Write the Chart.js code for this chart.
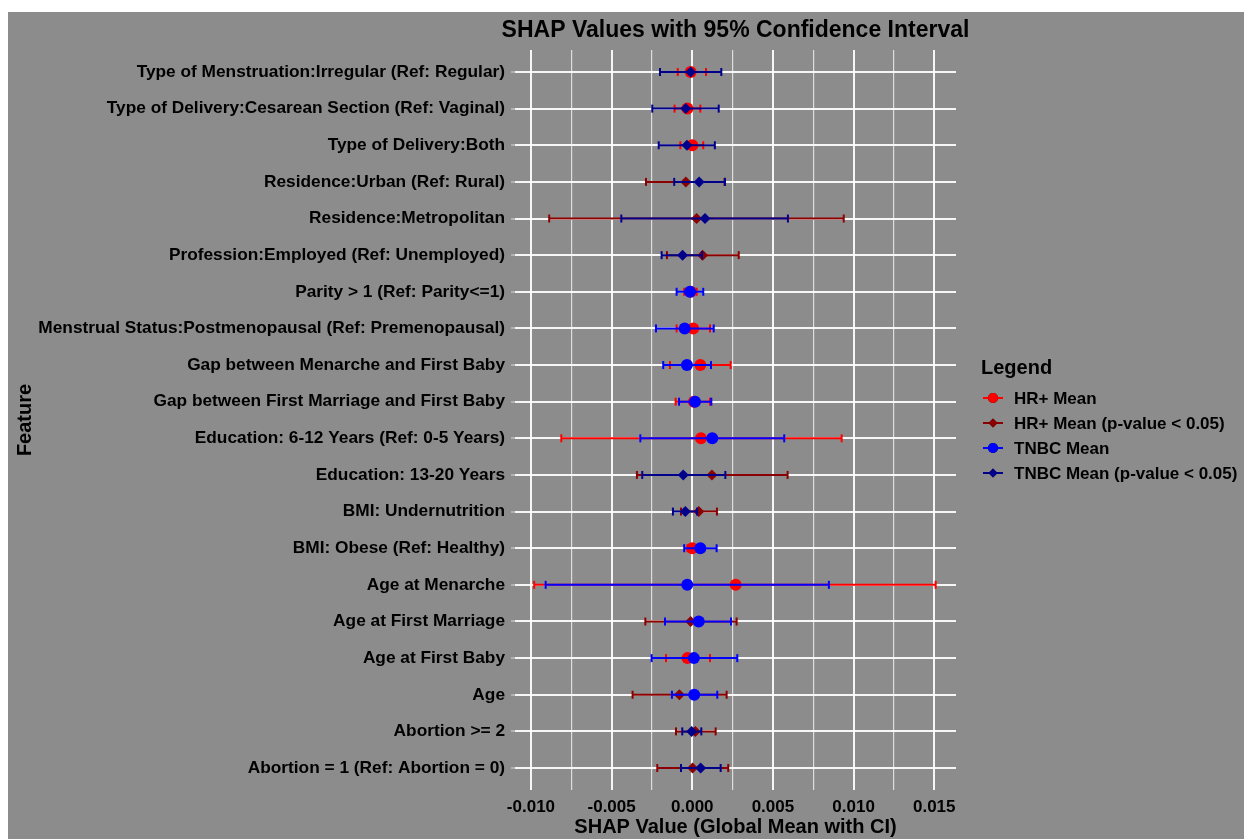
<!DOCTYPE html>
<html>
<head>
<meta charset="utf-8">
<title>SHAP Values with 95% Confidence Interval</title>
<script src="https://cdn.jsdelivr.net/npm/chart.js@4"></script>
<style>
  body { margin: 0; background: #ffffff; }
  #wrap { position: absolute; left: 8px; top: 12px; width: 1236px; height: 827px; background: #8c8c8c; }
</style>
</head>
<body>
<div id="wrap"><canvas id="shapChart"></canvas></div>
<script>
// Features, listed top to bottom
const features = [
    'Type of Menstruation:Irregular (Ref: Regular)',
    'Type of Delivery:Cesarean Section (Ref: Vaginal)',
    'Type of Delivery:Both',
    'Residence:Urban (Ref: Rural)',
    'Residence:Metropolitan',
    'Profession:Employed (Ref: Unemployed)',
    'Parity > 1 (Ref: Parity<=1)',
    'Menstrual Status:Postmenopausal (Ref: Premenopausal)',
    'Gap between Menarche and First Baby',
    'Gap between First Marriage and First Baby',
    'Education: 6-12 Years (Ref: 0-5 Years)',
    'Education: 13-20 Years',
    'BMI: Undernutrition',
    'BMI: Obese (Ref: Healthy)',
    'Age at Menarche',
    'Age at First Marriage',
    'Age at First Baby',
    'Age',
    'Abortion >= 2',
    'Abortion = 1 (Ref: Abortion = 0)'
];

// HR+ cohort: mean SHAP value, 95% CI bounds, significance (p < 0.05)
const hrMean = [-0.0001, -0.0003, 0.0000, -0.0004, 0.00027, 0.00064, -0.0001, 0.00006, 0.0005, 0.0001,
                0.00054, 0.00122, 0.0004, 0.0000, 0.00269, -0.0001, -0.0003, -0.0008, 0.00019, 0.00002];
const hrLow  = [-0.0009, -0.0011, -0.00074, -0.00287, -0.00887, -0.00157, -0.0005, -0.00097, -0.00138, -0.00103,
                -0.00812, -0.00343, -0.0007, -0.0003, -0.0098, -0.00291, -0.00163, -0.0037, -0.00101, -0.00217];
const hrHigh = [0.00085, 0.0005, 0.00068, 0.0020, 0.00939, 0.00288, 0.00027, 0.0011, 0.00238, 0.0011,
                0.00926, 0.00591, 0.00153, 0.0003, 0.01509, 0.00275, 0.0011, 0.00213, 0.00145, 0.00223];
const hrSig  = [false, false, false, true, true, true, false, false, false, false,
                false, true, true, false, false, true, false, true, true, true];

// TNBC cohort
const tnbcMean = [-0.0001, -0.0004, -0.00033, 0.00043, 0.00079, -0.0006, -0.00014, -0.00047, -0.00033, 0.00017,
                  0.00124, -0.00056, -0.00043, 0.0005, -0.00031, 0.0004, 0.0001, 0.00012, -0.00004, 0.00052];
const tnbcLow  = [-0.0020, -0.00248, -0.00208, -0.00112, -0.0044, -0.0019, -0.00097, -0.00225, -0.0018, -0.00082,
                  -0.00322, -0.0031, -0.0012, -0.0005, -0.00909, -0.00169, -0.00252, -0.00126, -0.00062, -0.0007];
const tnbcHigh = [0.0018, 0.00164, 0.0014, 0.00203, 0.00593, 0.0006, 0.00068, 0.00133, 0.00116, 0.00118,
                  0.0057, 0.00205, 0.0003, 0.00151, 0.00847, 0.0024, 0.00279, 0.00155, 0.00056, 0.00176];
const tnbcSig  = [true, true, true, true, true, true, false, false, false, false,
                  false, true, true, false, false, false, false, false, true, true];

// x grid positions; labels only on every other one
const xTicks = [-0.01, -0.0075, -0.005, -0.0025, 0, 0.0025, 0.005, 0.0075, 0.01, 0.0125, 0.015];
const xTickLabels = ['-0.010', '', '-0.005', '', '0.000', '', '0.005', '', '0.010', '', '0.015'];

const legendItems = [
    { label: 'HR+ Mean', color: '#ff0000', style: 'circle' },
    { label: 'HR+ Mean (p-value < 0.05)', color: '#8b0000', style: 'rectRot' },
    { label: 'TNBC Mean', color: '#0000ff', style: 'circle' },
    { label: 'TNBC Mean (p-value < 0.05)', color: '#00008b', style: 'rectRot' }
];

const FONT = "'Liberation Sans', Arial, Helvetica, sans-serif";
const TEXT = '#000000';

// error bar segments, separated by empty points so the line breaks between rows
function ciPoints(low, high, sig, wantSig) {
    const pts = [];
    features.forEach((f, i) => {
        if (sig[i] !== wantSig) return;
        pts.push({ x: low[i], y: i }, { x: high[i], y: i }, { x: null, y: null });
    });
    return pts;
}

function meanPoints(mean, sig, wantSig) {
    const pts = [];
    features.forEach((f, i) => {
        if (sig[i] === wantSig) pts.push({ x: mean[i], y: i });
    });
    return pts;
}

function ciDataset(data, color, order) {
    return {
        data: data,
        showLine: true,
        borderColor: color,
        borderWidth: 2,
        pointStyle: 'line',
        pointRotation: 90,
        pointRadius: 4,
        pointBorderColor: color,
        pointBorderWidth: 2,
        order: order
    };
}

function meanDataset(data, item, order) {
    return {
        data: data,
        showLine: false,
        pointStyle: item.style,
        pointRadius: item.style === 'circle' ? 6 : 5.5,
        backgroundColor: item.color,
        borderColor: item.color,
        pointBorderWidth: 0,
        order: order
    };
}

// Title and legend drawn straight onto the canvas
const annotations = {
    id: 'annotations',
    afterDraw(chart) {
        const ctx = chart.ctx;
        const area = chart.chartArea;
        ctx.save();
        ctx.fillStyle = TEXT;
        ctx.textBaseline = 'middle';
        ctx.textAlign = 'center';
        ctx.font = 'bold 23px ' + FONT;
        ctx.fillText('SHAP Values with 95% Confidence Interval', (area.left + area.right) / 2, 19);

        ctx.textAlign = 'left';
        ctx.font = 'bold 20px ' + FONT;
        ctx.fillText('Legend', 973, 356);

        ctx.font = 'bold 17px ' + FONT;
        legendItems.forEach((item, k) => {
            const y = 386 + k * 25;
            ctx.strokeStyle = item.color;
            ctx.lineWidth = 2;
            ctx.beginPath();
            ctx.moveTo(975, y);
            ctx.lineTo(995, y);
            ctx.stroke();
            Chart.helpers.drawPoint(ctx, {
                pointStyle: item.style,
                radius: item.style === 'circle' ? 5 : 4.5,
                rotation: 0,
                borderWidth: 0
            }, 985, y);
            ctx.fillStyle = item.color;
            ctx.fill();
            ctx.fillStyle = TEXT;
            ctx.fillText(item.label, 1006, y + 1);
        });
        ctx.restore();
    }
};

const ctx = document.getElementById('shapChart').getContext('2d');
new Chart(ctx, {
    type: 'scatter',
    data: {
        datasets: [
            meanDataset(meanPoints(tnbcMean, tnbcSig, false), legendItems[2], 0),
            meanDataset(meanPoints(tnbcMean, tnbcSig, true), legendItems[3], 0),
            ciDataset(ciPoints(tnbcLow, tnbcHigh, tnbcSig, false), legendItems[2].color, 1),
            ciDataset(ciPoints(tnbcLow, tnbcHigh, tnbcSig, true), legendItems[3].color, 1),
            meanDataset(meanPoints(hrMean, hrSig, false), legendItems[0], 2),
            meanDataset(meanPoints(hrMean, hrSig, true), legendItems[1], 2),
            ciDataset(ciPoints(hrLow, hrHigh, hrSig, false), legendItems[0].color, 3),
            ciDataset(ciPoints(hrLow, hrHigh, hrSig, true), legendItems[1].color, 3)
        ]
    },
    options: {
        responsive: true,
        maintainAspectRatio: false,
        animation: false,
        events: [],
        layout: { padding: { top: 38, right: 288, bottom: 0, left: 0 } },
        scales: {
            x: {
                type: 'linear',
                min: -0.01099,
                max: 0.01635,
                afterBuildTicks: scale => { scale.ticks = xTicks.map(v => ({ value: v })); },
                afterFit: scale => { scale.height = 49; },
                ticks: {
                    color: TEXT,
                    padding: 7,
                    maxRotation: 0,
                    minRotation: 0,
                    autoSkip: false,
                    font: { family: FONT, size: 17, weight: 'bold' },
                    callback: (value, index) => xTickLabels[index]
                },
                grid: {
                    drawTicks: false,
                    color: c => (c.index % 2 === 0 ? 'rgba(255,255,255,0.92)' : 'rgba(255,255,255,0.7)'),
                    lineWidth: c => (c.index % 2 === 0 ? 2 : 1.2)
                },
                border: { display: false },
                title: {
                    display: true,
                    text: 'SHAP Value (Global Mean with CI)',
                    color: TEXT,
                    font: { family: FONT, size: 20, weight: 'bold' },
                    padding: { top: 0, bottom: 0 }
                }
            },
            y: {
                type: 'linear',
                reverse: true,
                min: -0.6,
                max: 19.6,
                afterBuildTicks: scale => { scale.ticks = features.map((f, i) => ({ value: i })); },
                afterFit: scale => { scale.width = 507; },
                ticks: {
                    color: TEXT,
                    padding: 6,
                    font: { family: FONT, size: 17.3, weight: 'bold' },
                    callback: value => features[value]
                },
                grid: {
                    color: 'rgba(255,255,255,0.92)',
                    lineWidth: 2,
                    tickLength: 4,
                    tickColor: 'rgba(235,235,235,0.8)',
                    tickWidth: 1
                },
                border: { display: false },
                title: {
                    display: true,
                    text: 'Feature',
                    color: TEXT,
                    font: { family: FONT, size: 20, weight: 'bold' },
                    padding: { top: 5, bottom: 0 }
                }
            }
        },
        plugins: {
            legend: { display: false },
            tooltip: { enabled: false }
        }
    },
    plugins: [annotations]
});
</script>
</body>
</html>
